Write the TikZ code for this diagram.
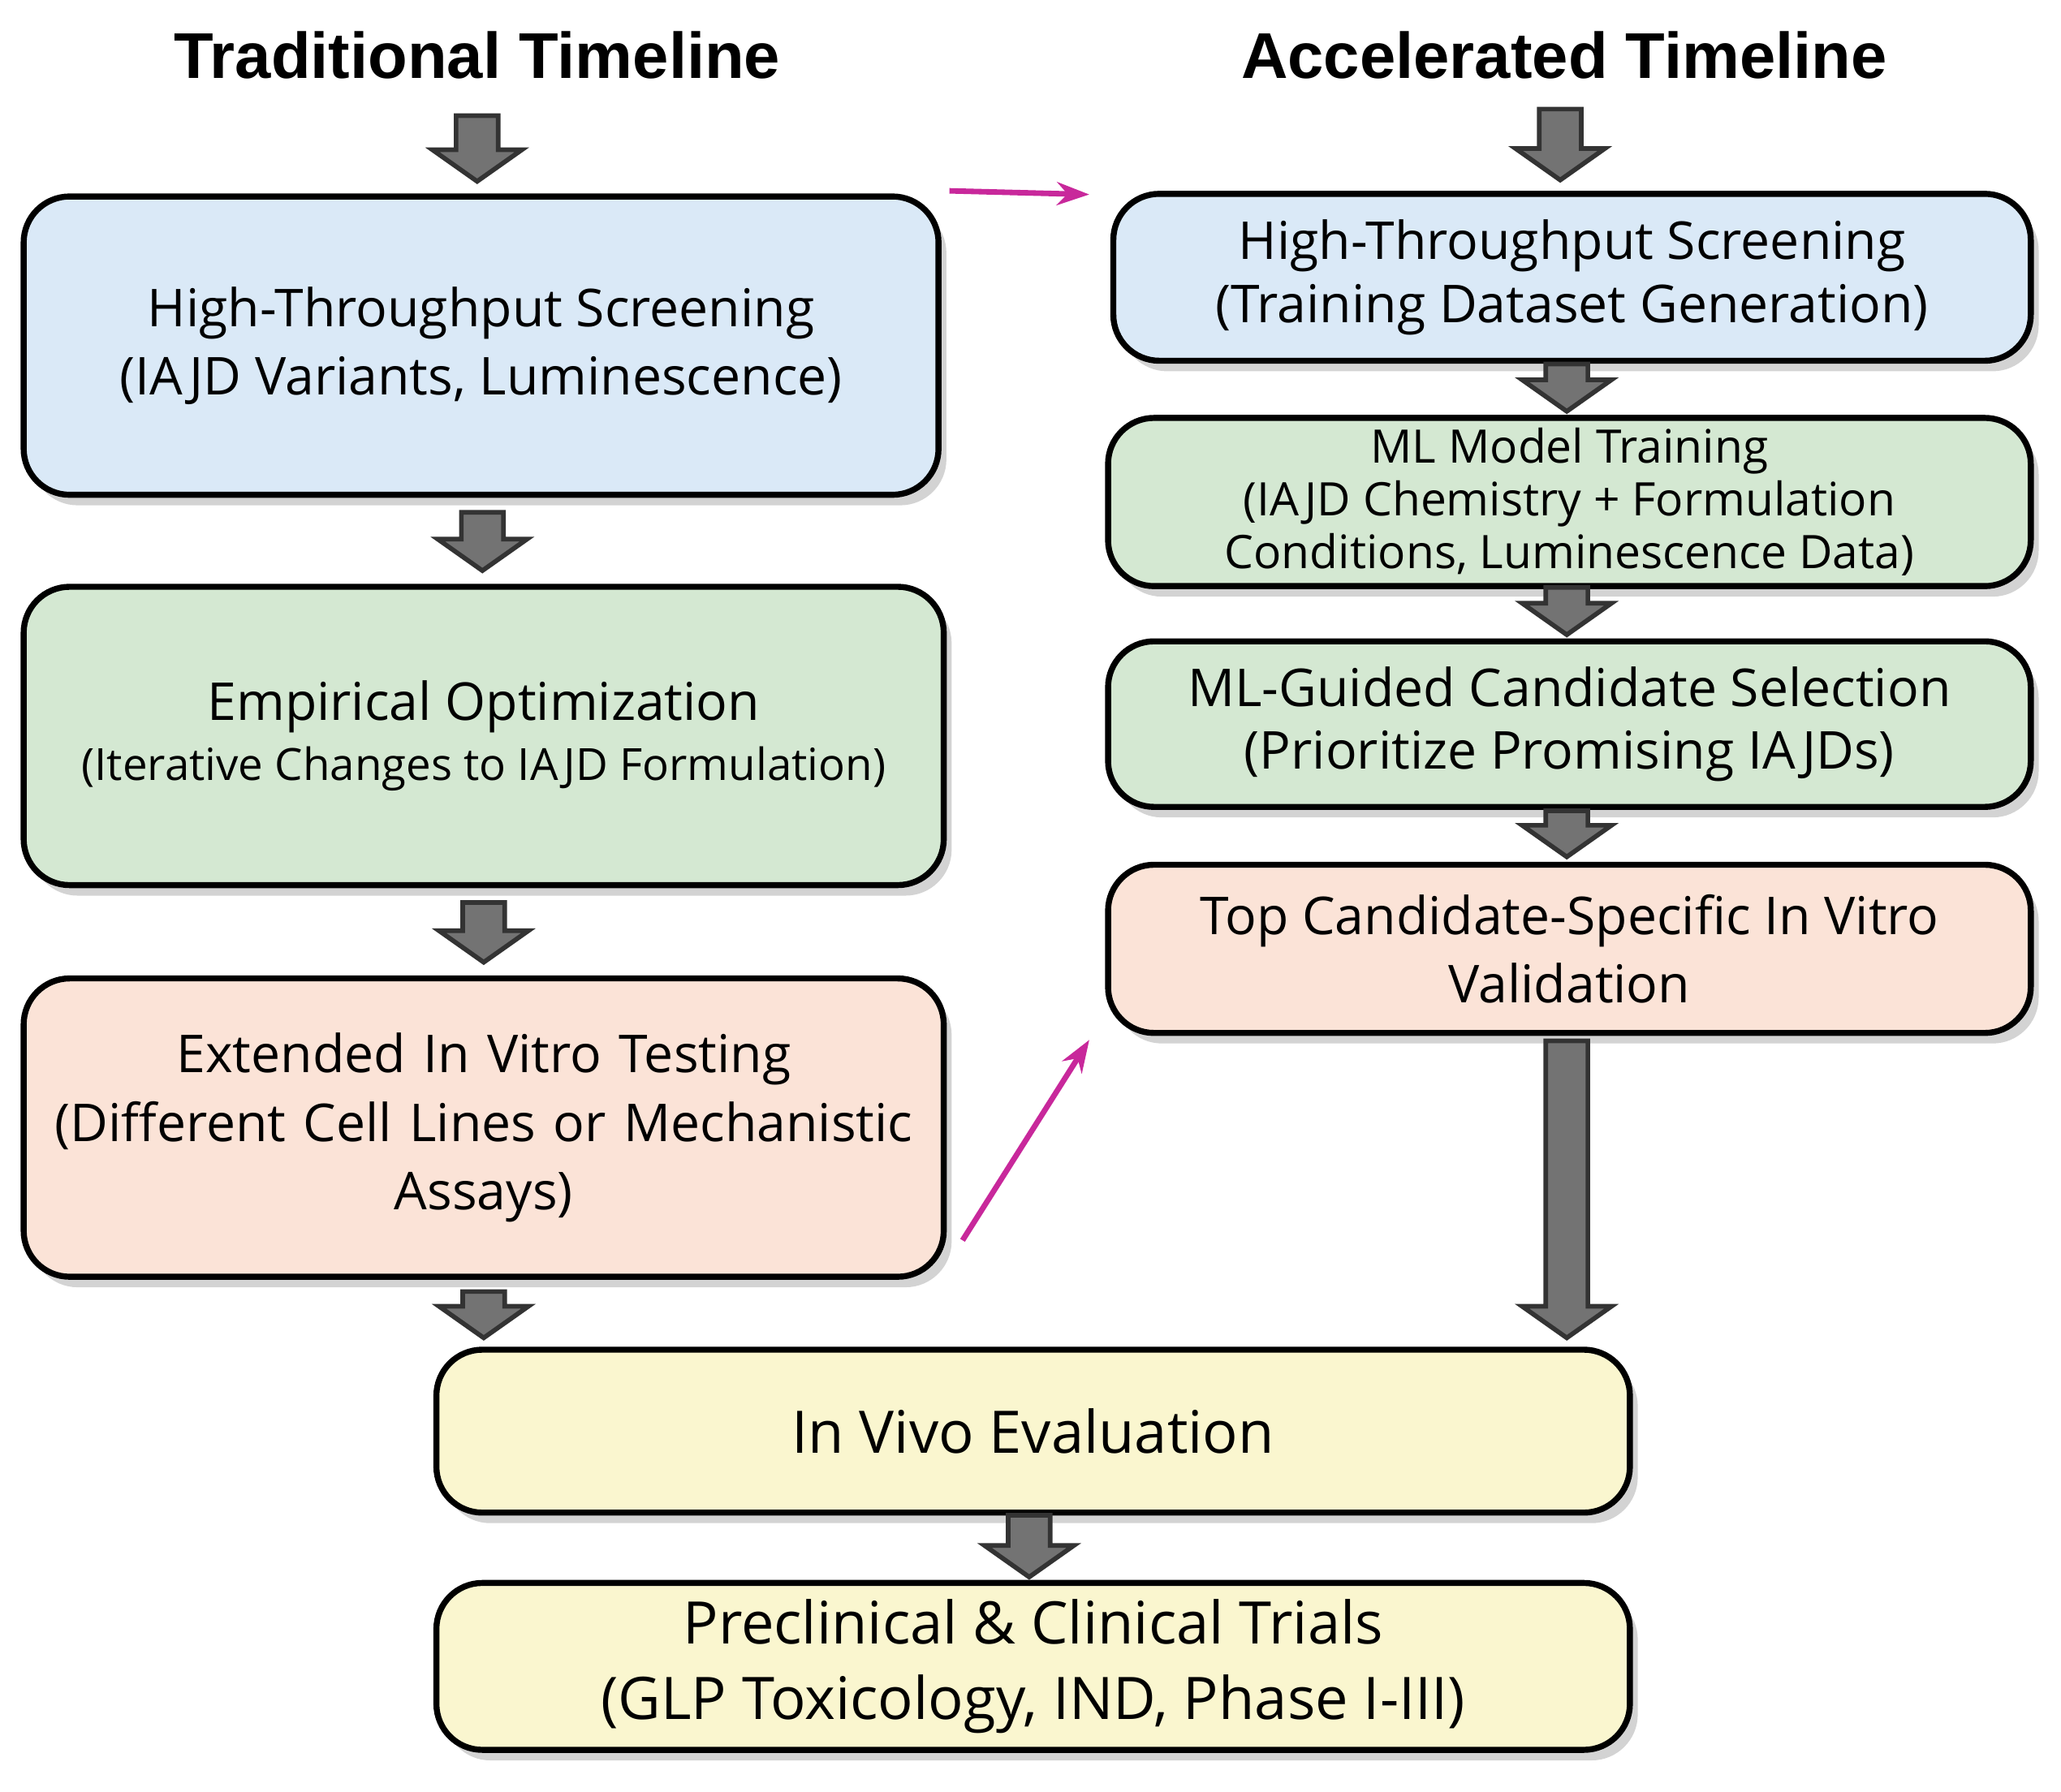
\documentclass[tikz,border=0pt]{standalone}
\usepackage{fontspec}
\setmainfont{Open Sans}
\newfontfamily\titlefont{Liberation Sans}
\usetikzlibrary{calc,shadows,arrows.meta}
\definecolor{boxblue}{HTML}{DAE9F7}
\definecolor{boxgreen}{HTML}{D4E8D2}
\definecolor{boxpink}{HTML}{FBE3D7}
\definecolor{boxyellow}{HTML}{FAF6CF}
\definecolor{linkpink}{HTML}{C8289B}
\tikzset{
  stage/.style={draw=black,line width=1.3pt,rounded corners=0.35cm,align=center,
    drop shadow={shadow xshift=0.6mm,shadow yshift=-0.8mm,opacity=0.35},inner sep=2pt},
  heading/.style={font=\titlefont\bfseries\fontsize{14}{17}\selectfont},
  arrowbody/.style={draw=black!80,fill=black!55,line width=1pt,line join=miter},
  link/.style={draw=linkpink,line width=1.2pt,-{Stealth[length=7pt,width=5pt]}}
}
% fat gray arrow between two points on one vertical
\newcommand\flowarr[2]{\draw[arrowbody] let \p1=#1, \p2=#2 in
  (\x1-0.16cm,\y1) -- (\x1+0.16cm,\y1) -- (\x1+0.16cm,\y2+0.24cm) -- (\x1+0.34cm,\y2+0.24cm)
  -- (\x1,\y2) -- (\x1-0.34cm,\y2+0.24cm) -- (\x1-0.16cm,\y2+0.24cm) -- cycle;}
\begin{document}
\begin{tikzpicture}
\useasboundingbox (0,0) rectangle (15.68,-13.63);
\node[heading] (trad) at (3.63,-0.42) {Traditional Timeline};
\node[heading] (acc) at (11.90,-0.42) {Accelerated Timeline};

% traditional
\node[stage,fill=boxblue,minimum width=6.96cm,minimum height=2.27cm,font=\fontsize{11.3}{14.8}\selectfont] (hts) at (3.66,-2.63)
  {High-Throughput Screening\\(IAJD Variants, Luminescence)};
\node[stage,fill=boxgreen,minimum width=7.0cm,minimum height=2.27cm] (emp) at (3.68,-5.60)
  {{\fontsize{11.3}{14}\selectfont Empirical Optimization}\\[1pt]{\fontsize{9.6}{13}\selectfont (Iterative Changes to IAJD Formulation)}};
\node[stage,fill=boxpink,text width=6.8cm,minimum width=7.0cm,minimum height=2.27cm,font=\fontsize{11.3}{14.8}\selectfont] (ext) at (3.68,-8.58)
  {Extended In Vitro Testing\\(Different Cell Lines or Mechanistic\\Assays)};

% accelerated
\node[stage,fill=boxblue,minimum width=6.98cm,minimum height=1.27cm,font=\fontsize{11.3}{13.6}\selectfont] (rhts) at (11.96,-2.11)
  {High-Throughput Screening\\(Training Dataset Generation)};
\node[stage,fill=boxgreen,minimum width=7.02cm,minimum height=1.28cm,font=\fontsize{10}{11.4}\selectfont] (train) at (11.94,-3.82)
  {ML Model Training\\(IAJD Chemistry + Formulation\\Conditions, Luminescence Data)};
\node[stage,fill=boxgreen,minimum width=7.02cm,minimum height=1.26cm,font=\fontsize{11.3}{13.6}\selectfont] (sel) at (11.94,-5.51)
  {ML-Guided Candidate Selection\\(Prioritize Promising IAJDs)};
\node[stage,fill=boxpink,minimum width=7.02cm,minimum height=1.28cm,font=\fontsize{11.3}{14.8}\selectfont] (val) at (11.94,-7.22)
  {Top Candidate-Specific In Vitro\\Validation};

% shared
\node[stage,fill=boxyellow,minimum width=9.08cm,minimum height=1.24cm,font=\fontsize{12.7}{16}\selectfont] (vivo) at (7.86,-10.89)
  {In Vivo Evaluation};
\node[stage,fill=boxyellow,minimum width=9.08cm,minimum height=1.27cm,font=\fontsize{12.7}{16.5}\selectfont] (trial) at (7.86,-12.68)
  {Preclinical \& Clinical Trials\\(GLP Toxicology, IND, Phase I-III)};

% flow
\flowarr{(3.63,-0.88)}{(3.63,-1.38)}
\flowarr{(11.87,-0.83)}{(11.87,-1.37)}
\flowarr{($(hts.south)+(0.01,-0.11)$)}{($(emp.north)+(0,0.1)$)}
\flowarr{($(emp.south)+(0,-0.11)$)}{($(ext.north)+(0,0.1)$)}
\flowarr{($(ext.south)+(0,-0.09)$)}{(3.68,-10.18)}
\flowarr{(11.92,-2.77)}{(11.92,-3.13)}
\flowarr{(11.92,-4.47)}{(11.92,-4.83)}
\flowarr{(11.92,-6.17)}{(11.92,-6.52)}
\flowarr{(11.92,-7.92)}{(11.92,-10.18)}
\flowarr{(7.83,-11.53)}{(7.83,-12.0)}

% shortcuts
\draw[link] ($(hts.north east)+(0.06,0.02)$) -- ($(rhts.west)+(-0.16,0.63)$);
\draw[link] ($(ext.south east)+(0.12,0.3)$) -- ($(val.south west)+(-0.12,-0.03)$);
\end{tikzpicture}
\end{document}
